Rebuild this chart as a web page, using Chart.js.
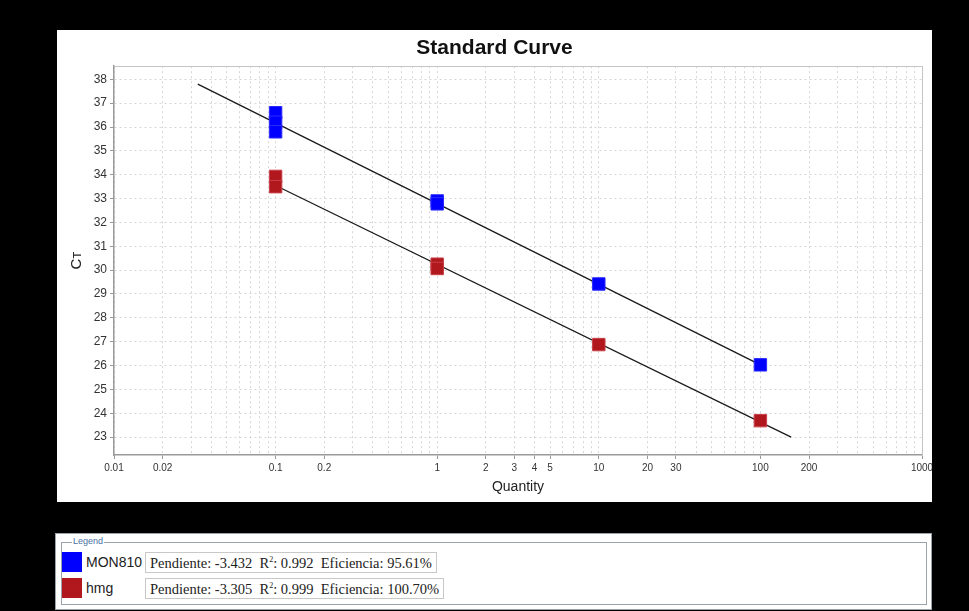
<!DOCTYPE html>
<html>
<head>
<meta charset="utf-8">
<script src="https://cdn.jsdelivr.net/npm/chart.js@4.4.1/dist/chart.umd.min.js"></script>
<style>
  html, body { margin: 0; padding: 0; background: #000; width: 969px; height: 611px; overflow: hidden; }
  #panel { position: absolute; left: 57px; top: 30px; width: 875px; height: 472px; background: #fff; overflow: hidden; }
  #legendBox { position: absolute; left: 55px; top: 533px; width: 875px; height: 75px; background: #fff; border: 1px solid #9aa3ab; }
  #group { position: absolute; left: 5px; top: 8px; right: 4px; bottom: 4px; border: 1px solid #9aa3ab; }
  #groupLabel { position: absolute; left: 10px; top: -7px; background: #fff; padding: 0 1px; font: 9px "Liberation Sans", Arial, sans-serif; color: #4a72a6; }
  .row { position: absolute; left: 0px; height: 20px; }
  .sw { position: absolute; left: 0; top: 0; width: 20px; height: 20px; }
  .name { position: absolute; left: 24px; top: 2px; font: 14px "Liberation Sans", Arial, sans-serif; color: #222; }
  .stats { position: absolute; left: 83px; top: 0; height: 19px; border: 1px solid #c8c8c8; padding: 0 4px; font: 14.5px "Liberation Serif", "Times New Roman", serif; color: #222; line-height: 20px; white-space: pre; }
  sup { font-size: 8px; vertical-align: 6px; line-height: 0; }
</style>
</head>
<body>
<div id="panel"><canvas id="c" width="875" height="472"></canvas></div>
<div id="legendBox"><div id="group"><span id="groupLabel">Legend</span></div></div>
<script>
// ---- data ----
const seriesNames = ['MON810', 'hmg'];
const seriesColors = ['#0000ff', '#b0181e'];
const mon810Quantity = [0.1, 0.1, 0.1, 1, 1, 10, 100];
const mon810Ct = [36.6, 36.2, 35.8, 32.9, 32.78, 29.42, 26.03];
const hmgQuantity = [0.1, 0.1, 1, 1, 10, 100];
const hmgCt = [33.93, 33.5, 30.25, 30.07, 26.88, 23.69];
const mon810FitQuantity = [0.033, 100];
const mon810FitCt = [37.8, 26.03];
const hmgFitQuantity = [0.1, 155];
const hmgFitCt = [33.55, 23.0];
const slopes = ['-3.432', '-3.305'];
const r2Values = ['0.992', '0.999'];
const efficiencies = ['95.61%', '100.70%'];
const xTickLabels = [0.01, 0.02, 0.1, 0.2, 1, 2, 3, 4, 5, 10, 20, 30, 100, 200, 1000];
const yMin = 22.25, yMax = 38.55;
const xMin = 0.01, xMax = 1000;

function pts(xs, ys) { return xs.map((x, i) => ({ x: x, y: ys[i] })); }
function isLabelled(v) { return xTickLabels.some(t => Math.abs(t - v) / t < 1e-6); }

const ctx = document.getElementById('c').getContext('2d');
new Chart(ctx, {
  data: {
    datasets: [
      { type: 'scatter', label: seriesNames[0], data: pts(mon810Quantity, mon810Ct), pointStyle: 'rect', pointRadius: 8.8, backgroundColor: seriesColors[0], borderColor: '#2a2aff', borderWidth: 1, order: 0 },
      { type: 'scatter', label: seriesNames[1], data: pts(hmgQuantity, hmgCt), pointStyle: 'rect', pointRadius: 8.8, backgroundColor: seriesColors[1], borderColor: '#c84048', borderWidth: 1, order: 0 },
      { type: 'line', label: 'fit1', data: pts(mon810FitQuantity, mon810FitCt), borderColor: '#1a1a1a', borderWidth: 1.3, pointRadius: 0, fill: false, order: 1 },
      { type: 'line', label: 'fit2', data: pts(hmgFitQuantity, hmgFitCt), borderColor: '#1a1a1a', borderWidth: 1.3, pointRadius: 0, fill: false, order: 1 }
    ]
  },
  options: {
    responsive: false,
    animation: false,
    devicePixelRatio: 1,
    layout: { padding: 0 },
    plugins: {
      legend: { display: false },
      tooltip: { enabled: false },
      title: { display: true, text: 'Standard Curve', color: '#111', font: { family: 'Liberation Sans, Arial', size: 21, weight: 'bold' }, padding: { top: 6, bottom: 0 } }
    },
    scales: {
      x: {
        type: 'logarithmic', position: 'bottom', min: xMin, max: xMax,
        afterBuildTicks: (s) => {
          const t = [];
          for (let k = -2; k <= 3; k++) {
            for (let m = 1; m <= 9; m++) {
              const v = parseFloat((m * Math.pow(10, k)).toPrecision(4));
              if (v >= xMin && v <= xMax) t.push({ value: v });
            }
          }
          s.ticks = t;
        },
        afterFit: (s) => { s.height = 47; s.paddingLeft = 0; s.paddingRight = 0; },
        ticks: {
          autoSkip: false, maxRotation: 0, minRotation: 0, padding: 3,
          color: '#333', font: { family: 'Liberation Sans, Arial', size: 10 },
          callback: (v) => isLabelled(v) ? String(xTickLabels.find(t => Math.abs(t - v) / t < 1e-6)) : ''
        },
        grid: {
          color: '#d6d6d6', lineWidth: 1, tickLength: 4,
          tickColor: (c) => (c.tick && isLabelled(c.tick.value)) ? '#999' : 'rgba(0,0,0,0)'
        },
        border: { display: true, color: '#9a9a9a', width: 1.5, dash: [2, 3] },
        title: { display: true, text: 'Quantity', color: '#222', font: { family: 'Liberation Sans, Arial', size: 14 }, padding: { top: 0, bottom: 6 } }
      },
      y: {
        type: 'linear', position: 'left', min: yMin, max: yMax,
        afterFit: (s) => { s.width = 57; },
        ticks: { stepSize: 1, includeBounds: false, padding: 3, color: '#333', font: { family: 'Liberation Sans, Arial', size: 12 } },
        grid: { color: '#d6d6d6', lineWidth: 1, tickLength: 4, tickColor: '#999' },
        border: { display: true, color: '#9a9a9a', width: 1.5, dash: [2, 3] },
        title: { display: true, text: 'Cᴛ', color: '#222', font: { family: 'Liberation Sans, Arial', size: 15 }, padding: { top: 11, bottom: 0 } }
      },
      x2: {
        type: 'linear', position: 'top', display: true,
        afterFit: (s) => { s.height = 5; },
        ticks: { display: false }, grid: { display: false, drawTicks: false },
        border: { display: true, color: '#c4c4c4', width: 1 }
      },
      y2: {
        type: 'linear', position: 'right', display: true,
        afterFit: (s) => { s.width = 10; },
        ticks: { display: false }, grid: { display: false, drawTicks: false },
        border: { display: true, color: '#c4c4c4', width: 1 }
      }
    }
  }
});

// ---- HTML legend built from the arrays ----
const group = document.getElementById('group');
seriesNames.forEach((name, i) => {
  const row = document.createElement('div');
  row.className = 'row';
  row.style.top = (9 + i * 26) + 'px';
  row.style.width = '500px';
  row.innerHTML = '<div class="sw" style="background:' + seriesColors[i] + '"></div>' +
    '<span class="name">' + name + '</span>' +
    '<span class="stats">Pendiente: ' + slopes[i] + '  R<sup>2</sup>: ' + r2Values[i] + '  Eficiencia: ' + efficiencies[i] + '</span>';
  group.appendChild(row);
});
</script>
</body>
</html>
